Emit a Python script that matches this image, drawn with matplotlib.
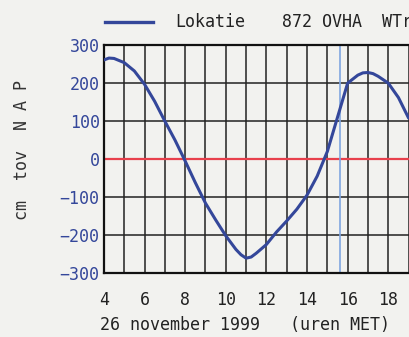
import matplotlib.pyplot as plt

uren = [4.0, 4.25, 4.5, 5.0, 5.5, 6.0, 6.5, 7.0, 7.5, 8.0, 8.5, 9.0, 9.5,
        10.0, 10.5, 10.75, 11.0, 11.25, 11.5, 12.0, 12.5, 13.0, 13.5, 14.0,
        14.5, 15.0, 15.5, 16.0, 16.5, 16.75, 17.0, 17.25, 17.5, 18.0, 18.5,
        19.0]
stand = [261, 266, 265, 254, 232, 197, 152, 100, 50, -5, -62, -116, -160,
         -202, -238, -252, -261, -258, -248, -225, -192, -163, -132, -95,
         -45, 20, 110, 200, 221, 227, 228, 225, 218, 200, 162, 108]
nu = 15.6
y_ticks = [300, 200, 100, 0, -100, -200, -300]
x_ticks = [4, 6, 8, 10, 12, 14, 16, 18]

bg = '#f2f2ef'
blauw = '#34479a'
font = 'DejaVu Sans Mono'

fig = plt.figure(figsize=(4.09, 3.37), dpi=100, facecolor=bg)
ax = fig.add_axes([0.254, 0.19, 0.746, 0.676], facecolor=bg)

# raster
for h in range(4, 20):
    ax.axvline(h, color='#222222', lw=1.1, zorder=1)
for v in [100, 200, -100, -200]:
    ax.axhline(v, color='#222222', lw=1.1, zorder=1)
ax.axhline(0, color='#e8404c', lw=1.6, zorder=2)
ax.axvline(nu, color='#7fa6e0', lw=1.2, zorder=2)

ax.plot(uren, stand, color=blauw, lw=2.2, zorder=3, solid_capstyle='round',
        solid_joinstyle='round')

ax.set_xlim(4, 19.02)
ax.set_ylim(-300, 300)
ax.set_xticks(x_ticks)
ax.set_yticks(y_ticks)
ax.tick_params(axis='y', length=0, pad=3)
ax.tick_params(axis='x', length=0, pad=13)
for lbl in ax.get_yticklabels():
    lbl.set_fontfamily(font)
    lbl.set_fontsize(12)
    lbl.set_color(blauw)
for lbl in ax.get_xticklabels():
    lbl.set_fontfamily(font)
    lbl.set_fontsize(12)
    lbl.set_color('#222222')
for s in ax.spines.values():
    s.set_color('#111111')
    s.set_linewidth(1.6)
ax.spines['right'].set_visible(False)

fig.text(0.055, 0.555, 'cm  tov  N A P', rotation=90, ha='center', va='center',
         fontfamily=font, fontsize=12, color='#333333')
fig.text(0.245, 0.035, '26 november 1999   (uren MET)', ha='left', va='center',
         fontfamily=font, fontsize=12, color='#222222')

# legenda-regel bovenaan (loopt in het origineel buiten beeld door)
fig.lines.append(plt.Line2D([105 / 409, 153 / 409], [1 - 22 / 337] * 2,
                            transform=fig.transFigure, color=blauw, lw=2.4))
fig.text(175 / 409, 1 - 22 / 337, 'Lokatie', ha='left', va='center',
         fontfamily=font, fontsize=12, color='#222222')
fig.text(282 / 409, 1 - 22 / 337, '872 OVHA  WTr', ha='left', va='center',
         fontfamily=font, fontsize=12, color='#222222')

plt.savefig('out.png', dpi=100, facecolor=bg)
